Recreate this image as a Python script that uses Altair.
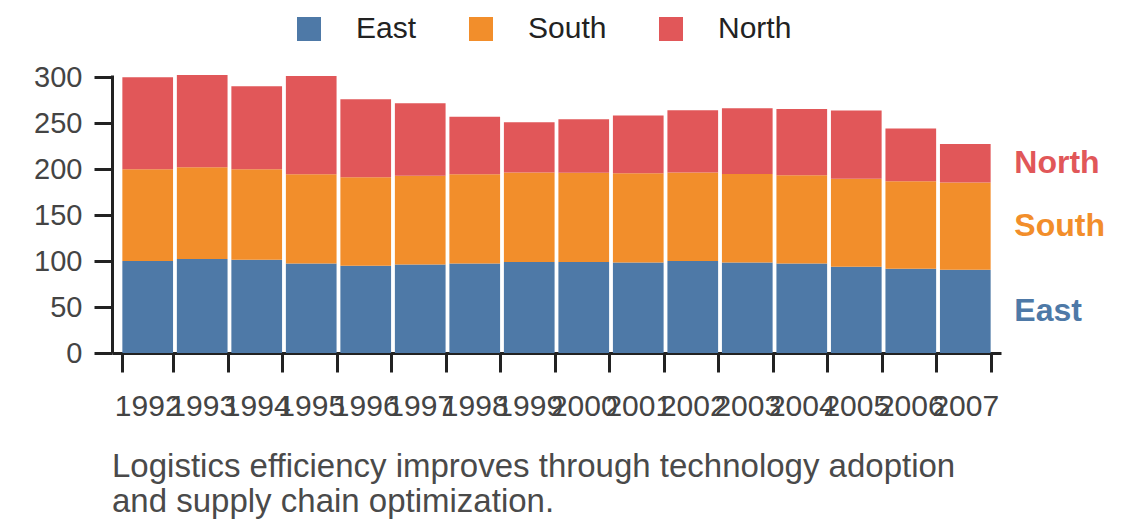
import altair as alt
import pandas as pd

years = [str(y) for y in range(1992, 2008)]
east = [100, 102.2, 101.4, 97.5, 94.9, 96.4, 97.5, 98.9, 98.9, 98.6, 100, 98.6, 97.5, 93.8, 91.7, 90.6]
south = [100, 100, 98.6, 97.1, 96.4, 96.4, 97.1, 97.5, 97.1, 97.1, 96.4, 96.3, 96.0, 95.7, 95.3, 94.9]
north = [100, 100.3, 90.2, 106.8, 84.8, 78.9, 62.6, 54.7, 58.3, 62.6, 67.7, 71.4, 72.1, 74.3, 57.2, 42.0]
series = ["East", "South", "North"]
colors = ["#4e79a7", "#f28e2b", "#e15759"]
caption = ["Logistics efficiency improves through technology adoption",
           "and supply chain optimization."]

rows = []
for i, y in enumerate(years):
    for k, (name, vals) in enumerate(zip(series, [east, south, north])):
        rows.append({"year": y, "region": name, "value": vals[i], "order": k})
df = pd.DataFrame(rows)

# label positions at the middle of each segment of the last bar
last = df[df["year"] == years[-1]].sort_values("order").copy()
last["mid"] = last["value"].cumsum() - last["value"] / 2
lab = last[["year", "region", "mid"]]

FONT = "Liberation Sans"
color_scale = alt.Scale(domain=series, range=colors)

x_enc = alt.X("year:N", title=None,
              scale=alt.Scale(paddingInner=0.07, paddingOuter=0.19),
              axis=alt.Axis(labelAngle=0, tickBand="extent", labelFontSize=30,
                            labelColor="#444444", labelFont=FONT, labelPadding=19,
                            tickSize=19, tickWidth=3, tickColor="#222222",
                            domainWidth=3, domainColor="#222222", labelOverlap=False))

bars = alt.Chart(df).mark_bar().encode(
    x=x_enc,
    y=alt.Y("value:Q", title=None, stack="zero",
            scale=alt.Scale(nice=False),
            axis=alt.Axis(values=[0, 50, 100, 150, 200, 250, 300], grid=False,
                          labelFontSize=29, labelColor="#444444", labelFont=FONT,
                          labelPadding=12, tickSize=18, tickWidth=3,
                          tickColor="#222222", domainWidth=3, domainColor="#222222")),
    color=alt.Color("region:N", scale=color_scale, sort=series,
                    legend=alt.Legend(title=None, orient="none", direction="horizontal",
                                      legendX=182, legendY=-61, symbolType="square",
                                      symbolSize=576, symbolStrokeWidth=0,
                                      labelFontSize=30, labelFont=FONT,
                                      labelColor="#222222", labelOffset=32,
                                      columnPadding=49)),
    order=alt.Order("order:Q"),
)

labels = alt.Chart(lab).mark_text(align="left", baseline="middle", dx=49,
                                  fontSize=32, fontWeight="bold", font=FONT).encode(
    x=alt.X("year:N"),
    y=alt.Y("mid:Q"),
    text="region:N",
    color=alt.Color("region:N", scale=color_scale, legend=None),
)

chart = alt.layer(bars, labels).properties(
    width=889, height=278,
    autosize=alt.AutoSizeParams(type="none"),
    padding={"left": 104, "top": 67, "right": 131, "bottom": 167},
    title=alt.TitleParams(caption, orient="bottom", anchor="start", frame="group",
                          fontSize=33, font=FONT, fontWeight="normal", color="#4a4a4a",
                          lineHeight=35, offset=30),
).configure_view(stroke=None)

chart.save("out.html", embed_options={"renderer": "svg", "actions": False})
